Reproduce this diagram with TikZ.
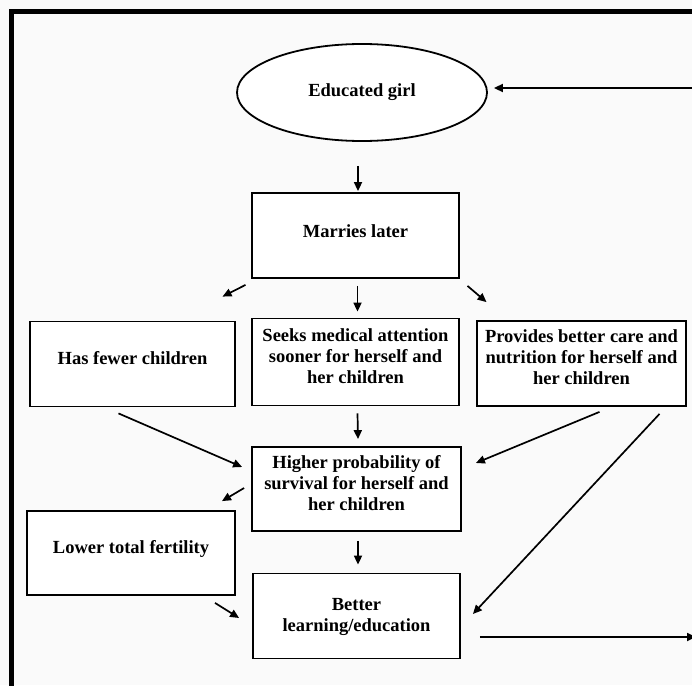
\documentclass[tikz,border=0pt]{standalone}
\usepackage{fontspec}
\setmainfont{Liberation Serif}
\usetikzlibrary{arrows.meta,shapes.geometric,calc}
\tikzset{
  box/.style={draw=black, line width=1.8pt, fill=white, align=center,
    font=\bfseries\fontsize{18.5}{21}\selectfont, text depth=12pt, inner sep=2pt},
  arr/.style={line width=1.7pt, -{Triangle[length=9pt,width=8pt]}},
  frame/.style={line width=5pt, line cap=rect}
}
\begin{document}
\begin{tikzpicture}[x=1pt,y=-1pt]
\useasboundingbox (0,0) rectangle (692,685);
\fill[white!98!black] (0,0) rectangle (692,685);
\draw[frame] (11,690) -- (11,11.5) -- (700,11.5);

\node[box, ellipse, minimum width=250, minimum height=97, text depth=4pt] (ell) at (362,92.5) {Educated girl};
\node[box, minimum width=207, minimum height=85, text depth=9pt] (mar) at (355.5,235.5) {Marries later};
\node[box, minimum width=205, minimum height=85] (few) at (132.5,364) {Has fewer children};
\node[box, minimum width=207, minimum height=87] (seek) at (355.5,362) {Seeks medical attention\\sooner for herself and\\her children};
\node[box, minimum width=209, minimum height=85] (prov) at (581.5,363.5) {Provides better care and\\nutrition for herself and\\her children};
\node[box, minimum width=209, minimum height=84] (high) at (356.5,489) {Higher probability of\\survival for herself and\\her children};
\node[box, minimum width=208, minimum height=84] (low) at (131,553) {Lower total fertility};
\node[box, minimum width=207, minimum height=85, text depth=2pt] (bet) at (356.5,616) {Better\\learning/education};

\coordinate (rin) at (700,88);
\coordinate (rout) at (696,637);

\draw[arr] (rin) -- ($(ell.east)+(6,-4.5)$);
\draw[arr] ($(ell.south)+(-4,24)$) -- ($(mar.north)+(2.5,-1)$);
\draw[arr] ($(mar.south)+(-110,6)$) -- ($(few.north)+(90,-24)$);
\draw[arr] ($(mar.south)+(2,7)$) -- ($(seek.north)+(2,-6)$);
\draw[arr] ($(mar.south)+(112,7)$) -- ($(prov.north)+(-95,-18)$);
\draw[arr] ($(few.south)+(-14,6)$) -- ($(high.west)+(-9,-22)$);
\draw[arr] ($(seek.south)+(2,7)$) -- ($(high.north)+(1.5,-7)$);
\draw[arr] ($(prov.south)+(18,5)$) -- ($(high.east)+(14,-26)$);
\draw[arr] ($(high.west)+(-7,-1)$) -- ($(low.north)+(91,-9)$);
\draw[arr] ($(high.south)+(1.5,9)$) -- ($(bet.north)+(1.5,-8)$);
\draw[arr] ($(low.south)+(84,7)$) -- ($(bet.west)+(-13,2)$);
\draw[arr] ($(prov.south)+(78,7)$) -- ($(bet.east)+(12,-2)$);
\draw[arr] ($(bet.east)+(19,21)$) -- (rout);
\end{tikzpicture}
\end{document}
